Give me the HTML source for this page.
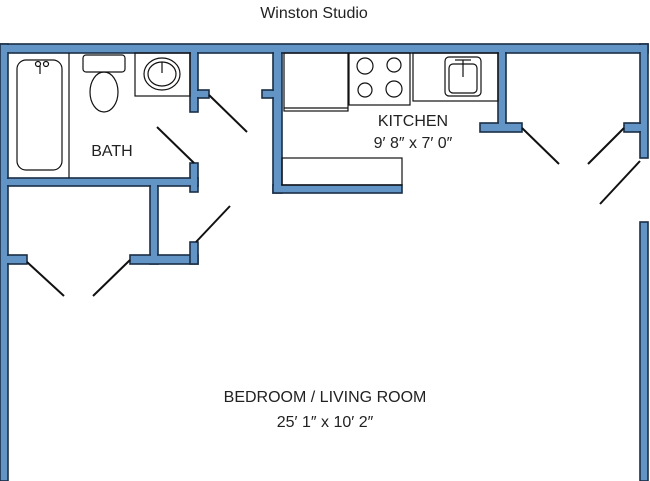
<!DOCTYPE html>
<html><head><meta charset="utf-8"><style>
html,body{margin:0;padding:0;background:#fff;width:650px;height:481px;overflow:hidden}
svg{display:block}
text{font-family:"Liberation Sans",sans-serif;fill:#222}
</style></head><body>
<svg width="650" height="481" viewBox="0 0 650 481">
<text x="314" y="18" font-size="16" text-anchor="middle">Winston Studio</text>
<g fill="#6295c6" stroke="#1a2e46" stroke-width="1.6">
<rect x="0" y="44" width="648" height="9"/>
<rect x="0" y="44" width="8" height="437"/>
<rect x="640" y="44" width="8" height="114"/>
<rect x="640" y="222" width="8" height="259"/>
<rect x="190" y="53" width="8" height="59"/>
<rect x="198" y="90" width="11" height="8"/>
<rect x="190" y="163" width="8" height="29"/>
<rect x="8" y="178" width="190" height="8"/>
<rect x="150" y="186" width="8" height="78"/>
<rect x="130" y="255" width="68" height="9"/>
<rect x="190" y="242" width="8" height="22"/>
<rect x="8" y="255" width="19" height="9"/>
<rect x="273" y="53" width="9" height="140"/>
<rect x="262" y="90" width="11" height="8"/>
<rect x="273" y="185" width="129" height="8"/>
<rect x="498" y="53" width="8" height="75"/>
<rect x="480" y="123" width="42" height="9"/>
<rect x="624" y="123" width="16" height="9"/>
</g>
<g fill="#6295c6">
<rect x="1" y="45" width="646" height="7"/>
<rect x="1" y="45" width="6" height="435"/>
<rect x="641" y="45" width="6" height="112"/>
<rect x="191" y="52" width="6" height="59"/>
<rect x="274" y="52" width="7" height="140"/>
<rect x="499" y="52" width="6" height="75"/>
<rect x="151" y="185" width="6" height="78"/>
<rect x="191" y="177" width="6" height="14"/>
<rect x="191" y="256" width="6" height="7"/>
<rect x="274" y="186" width="7" height="6"/>
<rect x="481" y="124" width="40" height="7"/>
<rect x="625" y="124" width="22" height="7"/>
<rect x="1" y="256" width="25" height="7"/>
<rect x="1" y="179" width="196" height="6"/>
<rect x="191" y="91" width="17" height="6"/>
<rect x="263" y="91" width="18" height="6"/>
</g>
<g stroke="#111" stroke-width="2" fill="none">
<line x1="209" y1="95" x2="247" y2="132"/>
<line x1="157" y1="127" x2="194" y2="163"/>
<line x1="196" y1="242" x2="230" y2="206"/>
<line x1="27" y1="262" x2="64" y2="296"/>
<line x1="130" y1="260" x2="93" y2="296"/>
<line x1="522" y1="128" x2="559" y2="164"/>
<line x1="624" y1="128" x2="588" y2="164"/>
<line x1="640" y1="161" x2="600" y2="204"/>
</g>
<g stroke="#111" stroke-width="1.2" fill="none">
<line x1="69" y1="53" x2="69" y2="178"/>
<rect x="17" y="60" width="45" height="110" rx="9"/>
<rect x="83" y="55" width="42" height="17" rx="3"/>
<ellipse cx="104" cy="92" rx="14" ry="20"/>
<rect x="135" y="53" width="55" height="43"/>
<ellipse cx="162" cy="74" rx="18" ry="16"/>
<ellipse cx="162" cy="74" rx="14" ry="12"/>
<line x1="162" y1="62" x2="162" y2="73"/>
<circle cx="38" cy="64" r="2.5"/><circle cx="46" cy="64" r="2.5"/>
<line x1="40" y1="66" x2="40" y2="74"/>
<rect x="282" y="158" width="120" height="27"/>
<rect x="284" y="53" width="64" height="58"/>
<line x1="284" y1="108" x2="348" y2="108"/>
<rect x="349" y="53" width="61" height="52"/>
<circle cx="365" cy="66" r="8"/><circle cx="394" cy="65" r="7"/>
<circle cx="365" cy="90" r="7"/><circle cx="394" cy="89" r="8"/>
<rect x="413" y="53" width="85" height="48"/>
<rect x="445" y="57" width="36" height="39" rx="4"/>
<rect x="449" y="64" width="28" height="29" rx="4"/>
<line x1="463" y1="60" x2="463" y2="77"/>
<line x1="455" y1="60" x2="471" y2="60"/>
</g>
<text x="112" y="156" font-size="16" text-anchor="middle">BATH</text>
<text x="413" y="126" font-size="16" text-anchor="middle">KITCHEN</text>
<text x="413" y="148" font-size="16" text-anchor="middle">9′ 8″ x 7′ 0″</text>
<text x="325" y="402" font-size="16" text-anchor="middle">BEDROOM / LIVING ROOM</text>
<text x="325" y="427" font-size="16" text-anchor="middle">25′ 1″ x 10′ 2″</text>
</svg>
</body></html>
